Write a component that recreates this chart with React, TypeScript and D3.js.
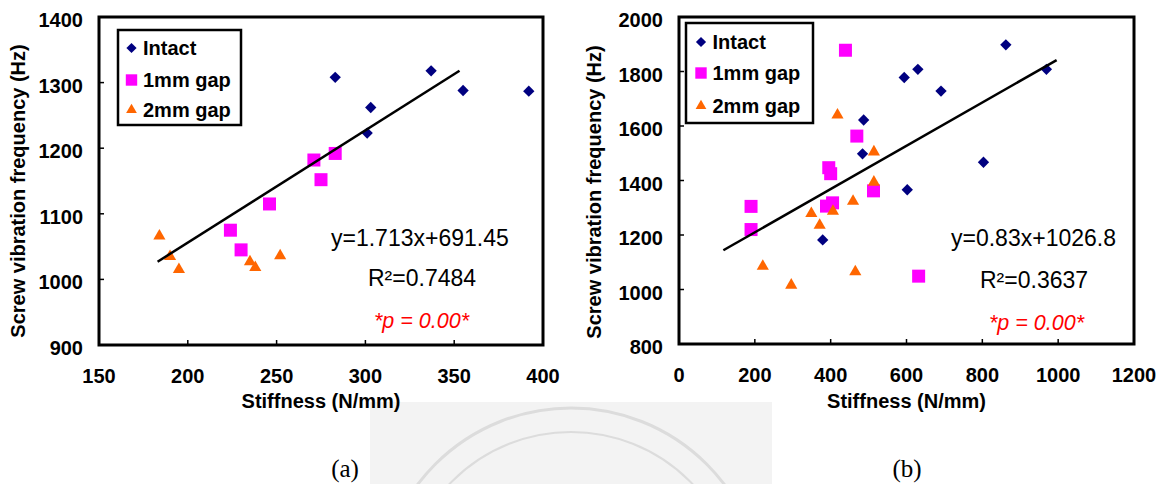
import React from "react";
import * as d3 from "d3";

// values (stiffness N/mm, frequency Hz)
const intactA = [[283, 1308], [303, 1262], [301, 1223], [337, 1318], [355, 1288], [392, 1287]];
const gap1A = [[271, 1182], [283, 1192], [275, 1152], [246, 1115], [224, 1075], [230, 1045]];
const gap2A = [[184, 1066], [190, 1035], [195, 1015], [235, 1027], [238, 1018], [252, 1036]];
const trendA = [[183, 1027], [353, 1318]];

const intactB = [[862, 1898], [969, 1808], [630, 1808], [594, 1778], [691, 1728], [487, 1622], [484, 1498], [803, 1467], [602, 1366], [379, 1182]];
const gap1B = [[439, 1878], [469, 1563], [395, 1447], [400, 1425], [513, 1362], [405, 1318], [389, 1306], [190, 1305], [190, 1220], [632, 1049]];
const gap2B = [[418, 1640], [514, 1505], [514, 1394], [459, 1324], [349, 1279], [406, 1287], [371, 1236], [221, 1085], [296, 1016], [465, 1065]];
const trendB = [[117, 1144], [996, 1842]];

const xTicksA = [150, 200, 250, 300, 350, 400];
const yTicksA = [900, 1000, 1100, 1200, 1300, 1400];
const xTicksB = [0, 200, 400, 600, 800, 1000, 1200];
const yTicksB = [800, 1000, 1200, 1400, 1600, 1800, 2000];

const seriesNames = ["Intact", "1mm gap", "2mm gap"];
const eqA = ["y=1.713x+691.45", "R²=0.7484", "*p = 0.00*"];
const eqB = ["y=0.83x+1026.8", "R²=0.3637", "*p = 0.00*"];

const FONT = "'Liberation Sans', Arial, sans-serif";
const colors = ["#000080", "#ff00ff", "#ff6600"];

const diamond = d3.symbol().type(d3.symbolSquare).size(64)();
const square = d3.symbol().type(d3.symbolSquare).size(169)();
const tri = d3.symbol().type(d3.symbolTriangle).size(64)();
const legDiamond = d3.symbol().type(d3.symbolSquare).size(52)();
const legSquare = d3.symbol().type(d3.symbolSquare).size(130)();
const legTri = d3.symbol().type(d3.symbolTriangle).size(50)();

function Marker({ kind, x, y, legend }) {
  if (kind === 0)
    return <path d={legend ? legDiamond : diamond} fill={colors[0]} transform={`translate(${x},${y}) rotate(45)`} />;
  if (kind === 1)
    return <path d={legend ? legSquare : square} fill={colors[1]} transform={`translate(${x},${y})`} />;
  return <path d={legend ? legTri : tri} fill={colors[2]} transform={`translate(${x},${y})`} />;
}

function Panel(props) {
  const { xDomain, yDomain, left, right, top, bottom, xTicks, yTicks, series, trend, eq, eqPos, legend, titleY } = props;
  const x = d3.scaleLinear().domain(xDomain).range([left, right]);
  const y = d3.scaleLinear().domain(yDomain).range([bottom, top]);
  const line = d3.line().x(d => x(d[0])).y(d => y(d[1]));
  return (
    <g>
      {yTicks.map(t => (
        <g key={"y" + t}>
          <line x1={left} x2={left + 5} y1={y(t)} y2={y(t)} stroke="#000" strokeWidth={1.5} />
          <text x={left - 16} y={y(t)} dy="0.5em" textAnchor="end" fontSize={20} fontWeight="bold" fontFamily={FONT}>{t}</text>
        </g>
      ))}
      {xTicks.map(t => (
        <g key={"x" + t}>
          <line x1={x(t)} x2={x(t)} y1={bottom} y2={bottom - 5} stroke="#000" strokeWidth={1.5} />
          <text x={x(t)} y={bottom + 38} textAnchor="middle" fontSize={20} fontWeight="bold" fontFamily={FONT}>{t}</text>
        </g>
      ))}
      <rect x={left} y={top} width={right - left} height={bottom - top} fill="none" stroke="#000" strokeWidth={3} />
      {series.map((s, i) => s.map((d, j) => <Marker key={i + "-" + j} kind={i} x={x(d[0])} y={y(d[1])} />))}
      <path d={line(trend)} fill="none" stroke="#000" strokeWidth={2.5} />
      <text x={eqPos[0]} y={eqPos[3]} fontSize={23} fontFamily={FONT}>{eq[0]}</text>
      <text x={eqPos[1]} y={eqPos[4]} fontSize={23} fontFamily={FONT}>{eq[1]}</text>
      <text x={eqPos[2]} y={eqPos[5]} fontSize={21.5} fontStyle="italic" fill="#ff0000" fontFamily={FONT}>{eq[2]}</text>
      <rect x={legend.x} y={legend.y} width={legend.w} height={legend.h} fill="#fff" stroke="#000" strokeWidth={2.5} />
      {seriesNames.map((n, i) => (
        <g key={n}>
          <Marker kind={i} x={legend.mx} y={legend.rows[i]} legend />
          <text x={legend.tx} y={legend.rows[i] + 7} fontSize={20} fontWeight="bold" fontFamily={FONT}>{n}</text>
        </g>
      ))}
      <text x={(left + right) / 2} y={408} textAnchor="middle" fontSize={20} fontWeight="bold" fontFamily={FONT}>Stiffness (N/mm)</text>
      <text transform={`translate(${titleY[0]},${titleY[1]}) rotate(-90)`} textAnchor="middle" fontSize={20} fontWeight="bold" fontFamily={FONT}>Screw vibration frequency (Hz)</text>
    </g>
  );
}

export default function App() {
  return (
    <svg width={1165} height={484} style={{ position: "absolute", left: 0, top: 0, background: "#fff" }}>
      <defs>
        <clipPath id="wm"><rect x={370} y={402} width={402} height={82} /></clipPath>
      </defs>
      <rect x={370} y={402} width={402} height={82} fill="#f3f3f3" />
      <g clipPath="url(#wm)" fill="none" stroke="#dcdcdc" strokeWidth={3}>
        <circle cx={571} cy={600} r={192} />
        <circle cx={571} cy={600} r={168} strokeWidth={2} />
      </g>
      <Panel
        xDomain={[150, 400]} yDomain={[900, 1400]} left={99} right={543} top={17} bottom={345}
        xTicks={xTicksA} yTicks={yTicksA} series={[intactA, gap1A, gap2A]} trend={trendA}
        eq={eqA} eqPos={[331, 368, 374, 246, 286, 328]}
        legend={{ x: 118, y: 30, w: 123, h: 95, mx: 131.5, tx: 143, rows: [48, 80, 110] }}
        titleY={[25, 191]}
      />
      <Panel
        xDomain={[0, 1200]} yDomain={[800, 2000]} left={679} right={1134} top={17} bottom={344}
        xTicks={xTicksB} yTicks={yTicksB} series={[intactB, gap1B, gap2B]} trend={trendB}
        eq={eqB} eqPos={[951, 980, 989, 246, 288, 330]}
        legend={{ x: 686, y: 23, w: 127, h: 100, mx: 701, tx: 712.5, rows: [42, 73, 106] }}
        titleY={[601, 192]}
      />
      <text x={345} y={477} textAnchor="middle" fontSize={25} fontFamily="'Liberation Serif', 'Times New Roman', serif">(a)</text>
      <text x={907} y={477} textAnchor="middle" fontSize={25} fontFamily="'Liberation Serif', 'Times New Roman', serif">(b)</text>
    </svg>
  );
}
